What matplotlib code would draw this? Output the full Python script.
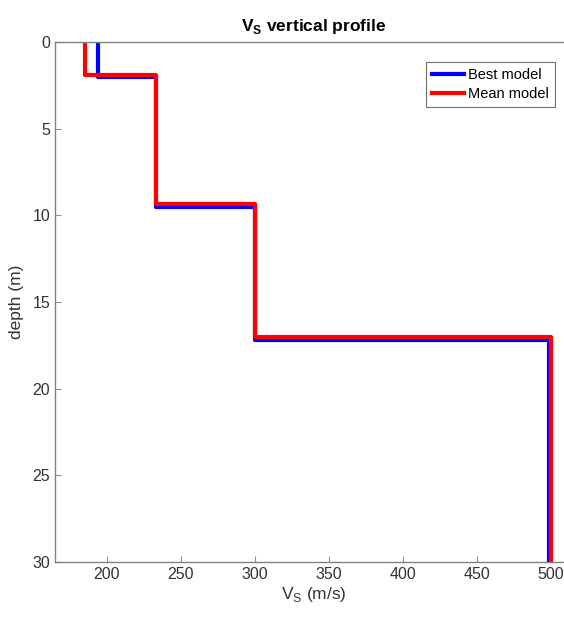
import numpy as np
import matplotlib
matplotlib.use('Agg')
import matplotlib.pyplot as plt
from matplotlib import rcParams

rcParams['font.family'] = ['Liberation Sans', 'DejaVu Sans']
rcParams['font.size'] = 11

# layer velocities (m/s) and depths of layer bottoms (m)
best_vs = [194, 233, 300, 499]
best_bottom = [2.0, 9.5, 17.2, 30.0]
mean_vs = [185, 233, 300, 500]
mean_bottom = [1.9, 9.35, 17.0, 30.0]


def step_profile(vs, bottoms):
    x, y = [], []
    top = 0.0
    for v, b in zip(vs, bottoms):
        x += [v, v]
        y += [top, b]
        top = b
    return x, y


fig = plt.figure(figsize=(5.64, 6.25), dpi=100)
# axes run past the right edge, as in the cropped reference
ax = fig.add_axes([0.0975, 0.1008, 0.918, 0.832])

bx, by = step_profile(best_vs, best_bottom)
mx, my = step_profile(mean_vs, mean_bottom)
ax.plot(bx, by, color='#0000ff', linewidth=3.0, label='Best model')
ax.plot(mx, my, color='#ff0000', linewidth=3.0, label='Mean model')

ax.set_xlim(165, 515)
ax.set_ylim(30, 0)
ax.set_xticks([200, 250, 300, 350, 400, 450, 500])
ax.set_yticks([0, 5, 10, 15, 20, 25, 30])
ax.tick_params(direction='in', length=4, color='#909090', labelcolor='#333333', labelsize=11.5)
for s in ax.spines.values():
    s.set_color('#808080')
    s.set_linewidth(1.0)

ax.set_xlabel('V$_\\mathregular{S}$ (m/s)', fontsize=12.5, labelpad=2, color='#333333')
ax.set_ylabel('depth (m)', fontsize=12.5, labelpad=6, color='#333333')
ax.set_title('V$_\\mathregular{S}$ vertical profile', fontsize=12.5, fontweight='bold', pad=8)

leg = ax.legend(loc='upper right', bbox_to_anchor=(0.98, 0.975), fontsize=10.5,
                fancybox=False, edgecolor='#707070', framealpha=1,
                handlelength=2.2, borderpad=0.4, labelspacing=0.35, handletextpad=0.3)
leg.get_frame().set_linewidth(0.8)

plt.savefig('out.png', dpi=100)
plt.close()
